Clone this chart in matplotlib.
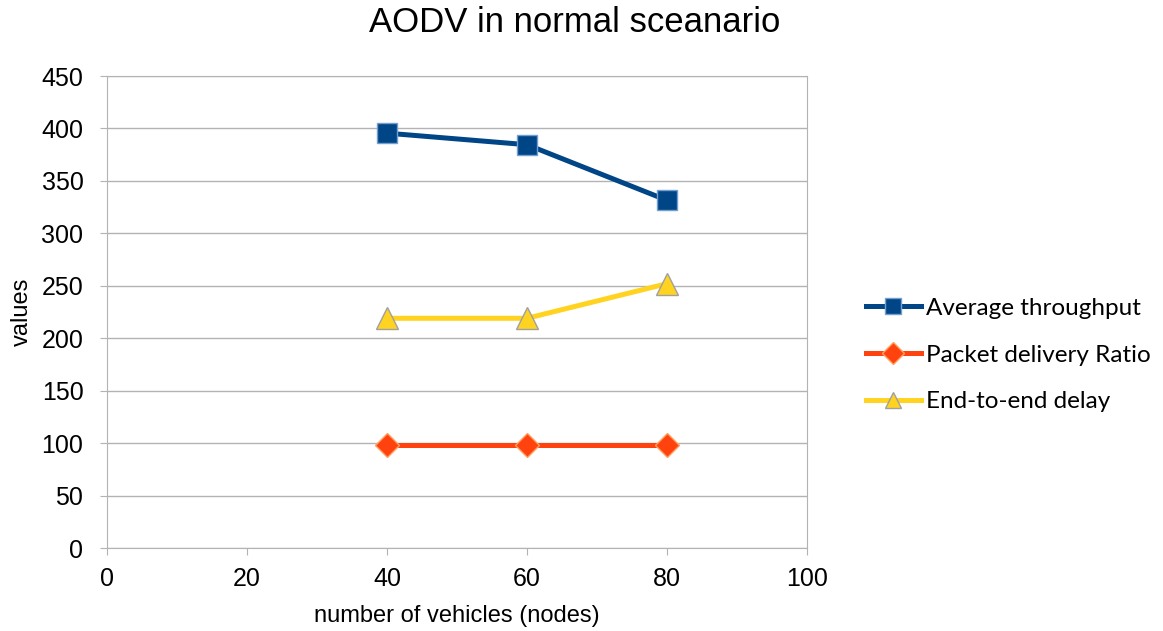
import matplotlib
matplotlib.use('Agg')
import matplotlib.pyplot as plt

# data
vehicles = [40, 60, 80]
throughput = [395.5, 384.5, 331.5]
pdr = [98.5, 98.5, 98.5]
delay = [219, 219, 252]

xticks = [0, 20, 40, 60, 80, 100]
yticks = list(range(0, 451, 50))

fig = plt.figure(figsize=(11.63, 6.31), dpi=100)
ax = fig.add_axes([107/1163, 83/631, 700/1163, 472/631])

grid_col = '#b3b3b3'
ax.set_axisbelow(True)
ax.yaxis.grid(True, color=grid_col, linewidth=1)

ax.plot(vehicles, throughput, color='#004586', linewidth=3.6, marker='s', markersize=15,
        markerfacecolor='#004586', markeredgecolor='#729fcf', markeredgewidth=1,
        label='Average throughput')
ax.plot(vehicles, pdr, color='#ff420e', linewidth=3.6, marker='D', markersize=12,
        markerfacecolor='#ff420e', markeredgecolor='#ffa060', markeredgewidth=1,
        label='Packet delivery Ratio')
ax.plot(vehicles, delay, color='#ffd320', linewidth=3.6, marker='^', markersize=16,
        markerfacecolor='#ffd320', markeredgecolor='#a0a0a0', markeredgewidth=1,
        label='End-to-end delay')

ax.set_xlim(0, 100)
ax.set_ylim(0, 450)
ax.set_xticks(xticks)
ax.set_yticks(yticks)
for s in ax.spines.values():
    s.set_color(grid_col)
ax.tick_params(colors=grid_col, labelcolor='black', labelsize=18, length=5, direction='out')
ax.tick_params(axis='y', pad=12)
ax.tick_params(axis='x', pad=9)
for lab in ax.get_xticklabels() + ax.get_yticklabels():
    lab.set_fontfamily('Liberation Sans')

ax.set_xlabel('number of vehicles (nodes)', fontsize=17, family='Liberation Sans', labelpad=10)
ax.set_ylabel('values', fontsize=17, family='Liberation Sans', labelpad=6)
fig.suptitle('AODV in normal sceanario', fontsize=25, family='Liberation Sans',
             x=575/1163, y=0.99)

leg = fig.legend(loc='center left', bbox_to_anchor=(866/1163, 1 - 355/631), frameon=False,
                 prop={'family': 'Lato', 'size': 17.5}, handlelength=2.25, labelspacing=1.05,
                 handletextpad=0.2, borderpad=0, borderaxespad=0)
for h in leg.legend_handles:
    h.set_markersize(11)

fig.savefig('out.png', dpi=100)
